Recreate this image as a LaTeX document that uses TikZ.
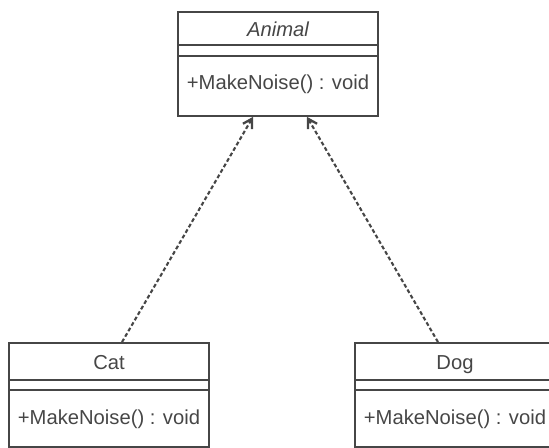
\documentclass[tikz,border=0pt]{standalone}
\usepackage{fontspec}
\setmainfont{Liberation Sans}
\usetikzlibrary{positioning,arrows.meta,calc}
\definecolor{linecolor}{RGB}{70, 70, 70}

\tikzset{
    classbox/.style={draw=linecolor, line width=1pt, minimum width=4cm, minimum height=2.08cm, inner sep=0pt},
    classtext/.style={text=linecolor, font=\fontsize{11.5pt}{14pt}\selectfont, inner sep=0pt, text height=1.6ex, text depth=0.5ex},
    inherits/.style={draw=linecolor, line width=1.2pt, dash pattern=on 2.2pt off 1.4pt, -{Straight Barb[length=5pt,width=6pt,line width=1.3pt]}}
}

\begin{document}
\begin{tikzpicture}
    \useasboundingbox (0, 0) rectangle (10.98, 8.96);
    \clip (0, 0) rectangle (10.98, 8.96);

    % Animal class (top, centered)
    \node[classbox] (animal) at (5.56, 7.68) {};
    \draw[linecolor, line width=1pt] ($(animal.north west)+(0,-0.68)$) -- ++(4, 0);
    \draw[linecolor, line width=1pt] ($(animal.north west)+(0,-0.90)$) -- ++(4, 0);
    \node[classtext] (animal name) at ($(animal.north)+(0,-0.40)$) {\itshape Animal};
    \node[classtext] (animal ops) at ($(animal.north)+(0,-1.46)$) {+MakeNoise() : void};

    % Cat class (bottom left, runs off the page)
    \node[classbox] (cat) at (2.18, 1.06) {};
    \draw[linecolor, line width=1pt] ($(cat.north west)+(0,-0.76)$) -- ++(4, 0);
    \draw[linecolor, line width=1pt] ($(cat.north west)+(0,-0.96)$) -- ++(4, 0);
    \node[classtext] (cat name) at ($(cat.north)+(0,-0.44)$) {Cat};
    \node[classtext] (cat ops) at ($(cat.north)+(0,-1.54)$) {+MakeNoise() : void};

    % Dog class (bottom right, runs off the page)
    \node[classbox] (dog) at (9.1, 1.06) {};
    \draw[linecolor, line width=1pt] ($(dog.north west)+(0,-0.76)$) -- ++(4, 0);
    \draw[linecolor, line width=1pt] ($(dog.north west)+(0,-0.96)$) -- ++(4, 0);
    \node[classtext] (dog name) at ($(dog.north)+(0,-0.44)$) {Dog};
    \node[classtext] (dog ops) at ($(dog.north)+(0,-1.54)$) {+MakeNoise() : void};

    % generalisation arrows
    \coordinate (cat top) at ($(cat.north)+(0.26,0)$);
    \coordinate (dog top) at ($(dog.north)+(-0.34,0)$);
    \coordinate (animal left) at ($(animal.south)+(-0.5,0)$);
    \coordinate (animal right) at ($(animal.south)+(0.58,0)$);
    \draw[inherits] (cat top) -- (animal left);
    \draw[inherits] (dog top) -- (animal right);

\end{tikzpicture}
\end{document}
